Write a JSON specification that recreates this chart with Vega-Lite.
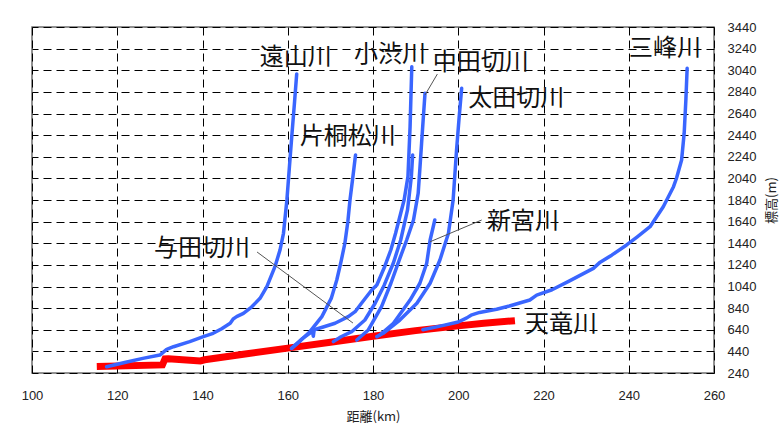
{
  "$schema": "https://vega.github.io/schema/vega-lite/v6.json",
  "width": 682,
  "height": 346,
  "autosize": {"type": "none"},
  "padding": {"left": 32, "top": 27, "right": 68, "bottom": 62},
  "background": "white",
  "config": {"view": {"stroke": "#6e6e6e", "strokeWidth": 1.5}, "axis": {"labelOverlap": false, "labelFlush": false, "labelBound": false}},
  "datasets": {
    "rivers": [
      {"r": "天竜川", "km": 115.2, "m": 300}, {"r": "天竜川", "km": 130.6, "m": 315}, {"r": "天竜川", "km": 131.2, "m": 370}, {"r": "天竜川", "km": 132, "m": 372}, {"r": "天竜川", "km": 139.5, "m": 352}, {"r": "天竜川", "km": 140.5, "m": 362}, {"r": "天竜川", "km": 150, "m": 415}, {"r": "天竜川", "km": 160, "m": 470}, {"r": "天竜川", "km": 170, "m": 525}, {"r": "天竜川", "km": 180, "m": 580}, {"r": "天竜川", "km": 190, "m": 632}, {"r": "天竜川", "km": 200, "m": 676}, {"r": "天竜川", "km": 206, "m": 700}, {"r": "天竜川", "km": 213.3, "m": 724},

      {"r": "遠山川", "km": 117.5, "m": 298}, {"r": "遠山川", "km": 122, "m": 340}, {"r": "遠山川", "km": 126, "m": 375}, {"r": "遠山川", "km": 130, "m": 406}, {"r": "遠山川", "km": 131.6, "m": 459}, {"r": "遠山川", "km": 133.2, "m": 483}, {"r": "遠山川", "km": 137, "m": 530}, {"r": "遠山川", "km": 140.2, "m": 576}, {"r": "遠山川", "km": 142.5, "m": 607}, {"r": "遠山川", "km": 144.5, "m": 650}, {"r": "遠山川", "km": 146.5, "m": 700}, {"r": "遠山川", "km": 147.2, "m": 740}, {"r": "遠山川", "km": 148, "m": 761}, {"r": "遠山川", "km": 149.6, "m": 792}, {"r": "遠山川", "km": 151.5, "m": 850}, {"r": "遠山川", "km": 153.5, "m": 931}, {"r": "遠山川", "km": 155.1, "m": 1038}, {"r": "遠山川", "km": 157, "m": 1223}, {"r": "遠山川", "km": 158.2, "m": 1380}, {"r": "遠山川", "km": 159, "m": 1532}, {"r": "遠山川", "km": 159.8, "m": 1840}, {"r": "遠山川", "km": 160.4, "m": 2150}, {"r": "遠山川", "km": 161, "m": 2457}, {"r": "遠山川", "km": 161.6, "m": 2750}, {"r": "遠山川", "km": 162.1, "m": 3006},

      {"r": "片桐松川", "km": 160.9, "m": 468}, {"r": "片桐松川", "km": 163, "m": 540}, {"r": "片桐松川", "km": 165.2, "m": 622}, {"r": "片桐松川", "km": 168, "m": 761}, {"r": "片桐松川", "km": 170.2, "m": 930}, {"r": "片桐松川", "km": 171.5, "m": 1100}, {"r": "片桐松川", "km": 172.5, "m": 1270}, {"r": "片桐松川", "km": 173.4, "m": 1440}, {"r": "片桐松川", "km": 174.1, "m": 1640}, {"r": "片桐松川", "km": 174.6, "m": 1840}, {"r": "片桐松川", "km": 175.3, "m": 2060}, {"r": "片桐松川", "km": 175.9, "m": 2256},

      {"r": "小渋川", "km": 160.9, "m": 468}, {"r": "小渋川", "km": 163.5, "m": 560}, {"r": "小渋川", "km": 165.8, "m": 625}, {"r": "小渋川", "km": 166.0, "m": 580}, {"r": "小渋川", "km": 166.2, "m": 640}, {"r": "小渋川", "km": 168.5, "m": 668}, {"r": "小渋川", "km": 171.1, "m": 700}, {"r": "小渋川", "km": 174.2, "m": 761}, {"r": "小渋川", "km": 175.8, "m": 807}, {"r": "小渋川", "km": 177.3, "m": 885}, {"r": "小渋川", "km": 179.7, "m": 1008}, {"r": "小渋川", "km": 180.9, "m": 1054}, {"r": "小渋川", "km": 182.8, "m": 1230}, {"r": "小渋川", "km": 184.2, "m": 1380}, {"r": "小渋川", "km": 185.3, "m": 1532}, {"r": "小渋川", "km": 187.3, "m": 1840}, {"r": "小渋川", "km": 188.2, "m": 2056}, {"r": "小渋川", "km": 188.7, "m": 2518}, {"r": "小渋川", "km": 189.1, "m": 3073},

      {"r": "与田切川", "km": 170.7, "m": 530}, {"r": "与田切川", "km": 172.5, "m": 575}, {"r": "与田切川", "km": 175, "m": 622}, {"r": "与田切川", "km": 178.1, "m": 730}, {"r": "与田切川", "km": 180.5, "m": 885}, {"r": "与田切川", "km": 182.6, "m": 1050}, {"r": "与田切川", "km": 184.8, "m": 1260}, {"r": "与田切川", "km": 186.5, "m": 1470}, {"r": "与田切川", "km": 188.1, "m": 1748}, {"r": "与田切川", "km": 189.0, "m": 2056}, {"r": "与田切川", "km": 189.3, "m": 2256},

      {"r": "中田切川", "km": 176.2, "m": 545}, {"r": "中田切川", "km": 178.9, "m": 638}, {"r": "中田切川", "km": 182.0, "m": 853}, {"r": "中田切川", "km": 184.2, "m": 1070}, {"r": "中田切川", "km": 186.3, "m": 1300}, {"r": "中田切川", "km": 187.9, "m": 1470}, {"r": "中田切川", "km": 189.5, "m": 1655}, {"r": "中田切川", "km": 190.6, "m": 1902}, {"r": "中田切川", "km": 191.0, "m": 2130}, {"r": "中田切川", "km": 191.4, "m": 2365}, {"r": "中田切川", "km": 191.8, "m": 2600}, {"r": "中田切川", "km": 192.2, "m": 2827},

      {"r": "太田切川", "km": 180.9, "m": 576}, {"r": "太田切川", "km": 182.4, "m": 607}, {"r": "太田切川", "km": 186.3, "m": 730}, {"r": "太田切川", "km": 190.3, "m": 885}, {"r": "太田切川", "km": 193.4, "m": 1070}, {"r": "太田切川", "km": 195.7, "m": 1285}, {"r": "太田切川", "km": 197.7, "m": 1532}, {"r": "太田切川", "km": 198.8, "m": 1840}, {"r": "太田切川", "km": 199.6, "m": 2302}, {"r": "太田切川", "km": 200.2, "m": 2600}, {"r": "太田切川", "km": 200.8, "m": 2873},

      {"r": "新宮川", "km": 181.6, "m": 591}, {"r": "新宮川", "km": 184.8, "m": 700}, {"r": "新宮川", "km": 188.7, "m": 915}, {"r": "新宮川", "km": 191, "m": 1070}, {"r": "新宮川", "km": 192.6, "m": 1255}, {"r": "新宮川", "km": 193.4, "m": 1470}, {"r": "新宮川", "km": 194.5, "m": 1655},

      {"r": "三峰川", "km": 191.7, "m": 640}, {"r": "三峰川", "km": 196, "m": 676}, {"r": "三峰川", "km": 200, "m": 712}, {"r": "三峰川", "km": 202, "m": 750}, {"r": "三峰川", "km": 203, "m": 775}, {"r": "三峰川", "km": 205, "m": 800}, {"r": "三峰川", "km": 209, "m": 830}, {"r": "三峰川", "km": 212, "m": 860}, {"r": "三峰川", "km": 216.8, "m": 915}, {"r": "三峰川", "km": 218.4, "m": 960}, {"r": "三峰川", "km": 222, "m": 1010}, {"r": "三峰川", "km": 226, "m": 1090}, {"r": "三峰川", "km": 231.7, "m": 1208}, {"r": "三峰川", "km": 233.3, "m": 1265}, {"r": "三峰川", "km": 236, "m": 1330}, {"r": "三峰川", "km": 239.5, "m": 1424}, {"r": "三峰川", "km": 242, "m": 1500}, {"r": "三峰川", "km": 245, "m": 1593}, {"r": "三峰川", "km": 248.1, "m": 1778}, {"r": "三峰川", "km": 250.5, "m": 1963}, {"r": "三峰川", "km": 251.2, "m": 2041}, {"r": "三峰川", "km": 252.4, "m": 2210}, {"r": "三峰川", "km": 253, "m": 2457}, {"r": "三峰川", "km": 253.4, "m": 2765}, {"r": "三峰川", "km": 253.7, "m": 3058}
    ],
    "labels": [
      {"t": "遠山川", "km": 161.9, "m": 3153},
      {"t": "小渋川", "km": 184.0, "m": 3181},
      {"t": "中田切川", "km": 205.3, "m": 3107},
      {"t": "太田切川", "km": 213.6, "m": 2774},
      {"t": "三峰川", "km": 248.5, "m": 3237},
      {"t": "片桐松川", "km": 174.1, "m": 2423},
      {"t": "与田切川", "km": 139.9, "m": 1387},
      {"t": "新宮川", "km": 215.2, "m": 1637},
      {"t": "天竜川", "km": 224.1, "m": 684}
    ],
    "leaders": [
      {"km": 192.2, "m": 2811, "km2": 195.1, "m2": 3005},
      {"km": 152.8, "m": 1359, "km2": 175.3, "m2": 702},
      {"km": 193.4, "m": 1454, "km2": 205.5, "m2": 1655}
    ]
  },
  "layer": [
    {
      "data": {"name": "rivers"},
      "transform": [{"filter": "datum.r === '天竜川'"}],
      "mark": {"type": "line", "color": "#ff0000", "strokeWidth": 7, "strokeCap": "butt"},
      "encoding": {
        "x": {
          "field": "km", "type": "quantitative",
          "scale": {"domain": [100, 260], "nice": false, "zero": false},
          "axis": {
            "title": "距離(km)", "values": [100, 120, 140, 160, 180, 200, 220, 240, 260], "format": "d", "tickCount": 20,
            "grid": true, "gridColor": "#000000", "gridDash": [8, 5], "gridWidth": 1, "gridOpacity": 1,
            "domain": false, "ticks": false, "labelOverlap": false, "labelFlush": false,
            "labelFont": "Liberation Sans", "labelFontSize": 13, "labelColor": "#222222", "labelPadding": 16,
            "titleFont": "Noto Sans CJK JP", "titleFontSize": 13, "titleFontWeight": "normal", "titleColor": "#222222", "titlePadding": 8
          }
        },
        "y": {
          "field": "m", "type": "quantitative",
          "scale": {"domain": [240, 3440], "nice": false, "zero": false},
          "axis": {
            "orient": "right", "title": "標高(m)", "format": "d", "tickCount": 20,
            "values": [240, 440, 640, 840, 1040, 1240, 1440, 1640, 1840, 2040, 2240, 2440, 2640, 2840, 3040, 3240, 3440],
            "grid": true, "gridColor": "#000000", "gridDash": [8, 5], "gridWidth": 1, "gridOpacity": 1,
            "domain": false, "ticks": false, "labelOverlap": false, "labelFlush": false,
            "labelFont": "Liberation Sans", "labelFontSize": 13, "labelColor": "#222222", "labelPadding": 13,
            "titleFont": "Noto Sans CJK JP", "titleFontSize": 13, "titleFontWeight": "normal", "titleColor": "#222222",
            "titleAngle": 270, "titleX": 57, "titleY": 173, "titleAlign": "center", "titleBaseline": "middle"
          }
        }
      }
    },
    {
      "data": {"name": "rivers"},
      "transform": [{"filter": "datum.r !== '天竜川'"}],
      "mark": {"type": "line", "color": "#3a66ff", "strokeWidth": 3.5, "strokeJoin": "round", "strokeCap": "round"},
      "encoding": {
        "x": {"field": "km", "type": "quantitative"},
        "y": {"field": "m", "type": "quantitative"},
        "detail": {"field": "r"}
      }
    },
    {
      "data": {"name": "leaders"},
      "mark": {"type": "rule", "color": "#555555", "strokeWidth": 1},
      "encoding": {
        "x": {"field": "km", "type": "quantitative"},
        "y": {"field": "m", "type": "quantitative"},
        "x2": {"field": "km2"},
        "y2": {"field": "m2"}
      }
    },
    {
      "data": {"name": "labels"},
      "mark": {"type": "text", "font": "Noto Sans CJK JP", "fontSize": 24, "color": "#111111", "align": "center", "baseline": "middle"},
      "encoding": {
        "x": {"field": "km", "type": "quantitative"},
        "y": {"field": "m", "type": "quantitative"},
        "text": {"field": "t"}
      }
    }
  ]
}
